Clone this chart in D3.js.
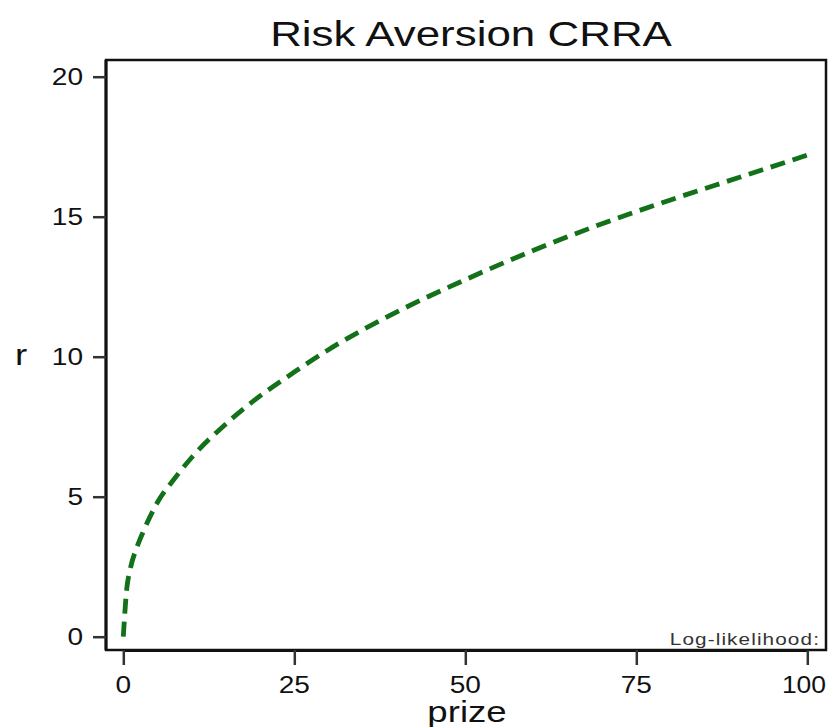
<!DOCTYPE html>
<html><head><meta charset="utf-8">
<script src="https://cdn.jsdelivr.net/npm/d3@7/dist/d3.min.js"></script>
<style>body{margin:0;background:#fff}svg{display:block}text{font-family:"Liberation Sans",Arial,sans-serif}</style>
</head><body>
<svg id="c" width="828" height="727"></svg>
<script>
const title = "Risk Aversion CRRA";
const xLabel = "prize";
const yLabel = "r";
const noteText = "Log-likelihood:";
const xTicks = [0, 25, 50, 75, 100];
const yTicks = [0, 5, 10, 15, 20];
const prize = [0, 0.5, 1, 2, 3, 5, 7.5, 10, 15, 20, 25, 30, 40, 50, 60, 70, 80, 90, 100];
const rValues = [0, 1.7, 2.4, 3.2, 3.8, 4.8, 5.65, 6.4, 7.6, 8.6, 9.45, 10.25, 11.6, 12.75, 13.8, 14.75, 15.6, 16.4, 17.2];

const svg = d3.select("#c");
const SX = 1.22; // horizontal text stretch
const frame = {l: 106, t: 60, r: 826, b: 650};
const x = d3.scaleLinear().domain([0, 100]).range([123.3, 807.3]);
const y = d3.scaleLinear().domain([0, 20]).range([636.7, 76.7]);

function stext(g, tx, ty, str, size, anchor, sx) {
  return g.append("text")
    .attr("transform", `translate(${tx},${ty}) scale(${sx || SX},1)`)
    .attr("text-anchor", anchor || "middle")
    .attr("font-size", size)
    .attr("fill", "#111")
    .text(str);
}

// frame
svg.append("rect").attr("x", frame.l).attr("y", frame.t)
  .attr("width", frame.r - frame.l).attr("height", frame.b - frame.t)
  .attr("fill", "none").attr("stroke", "#111").attr("stroke-width", 2.5);

// x axis
const xg = svg.append("g").attr("transform", `translate(0,${frame.b})`)
  .call(d3.axisBottom(x).tickValues(xTicks).tickSize(15).tickSizeOuter(0).tickFormat(""));
xg.select(".domain").attr("stroke", "#111").attr("stroke-width", 3);
xg.selectAll(".tick line").attr("stroke", "#333").attr("stroke-width", 2.5);
xTicks.forEach((v, i) => {
  if (i === xTicks.length - 1) stext(svg, 826, 693, String(v), 23, "end", 1.15);
  else stext(svg, x(v), 693, String(v), 23);
});

// y axis
const yg = svg.append("g").attr("transform", `translate(${frame.l},0)`)
  .call(d3.axisLeft(y).tickValues(yTicks).tickSize(13).tickSizeOuter(0).tickFormat(""));
yg.select(".domain").attr("d", `M0,${frame.t}V${frame.b}`).attr("stroke", "#111").attr("stroke-width", 3);
yg.selectAll(".tick line").attr("stroke", "#333").attr("stroke-width", 2.5);
yTicks.forEach(v => stext(svg, 83, y(v) + 8, String(v), 23, "end"));

// curve
const line = d3.line().x((d, i) => x(prize[i])).y(d => y(d)).curve(d3.curveMonotoneX);
svg.append("path").datum(rValues).attr("d", line)
  .attr("fill", "none").attr("stroke", "#13711a").attr("stroke-width", 4.8)
  .attr("stroke-dasharray", "15,8");

// titles
stext(svg, 471, 46, title, 36);
stext(svg, 467, 722, xLabel, 30);
stext(svg, 21, 365, yLabel, 30);
stext(svg, 820, 645, noteText, 17, "end").attr("letter-spacing", 0.9).attr("fill", "#333");
</script>
</body></html>
